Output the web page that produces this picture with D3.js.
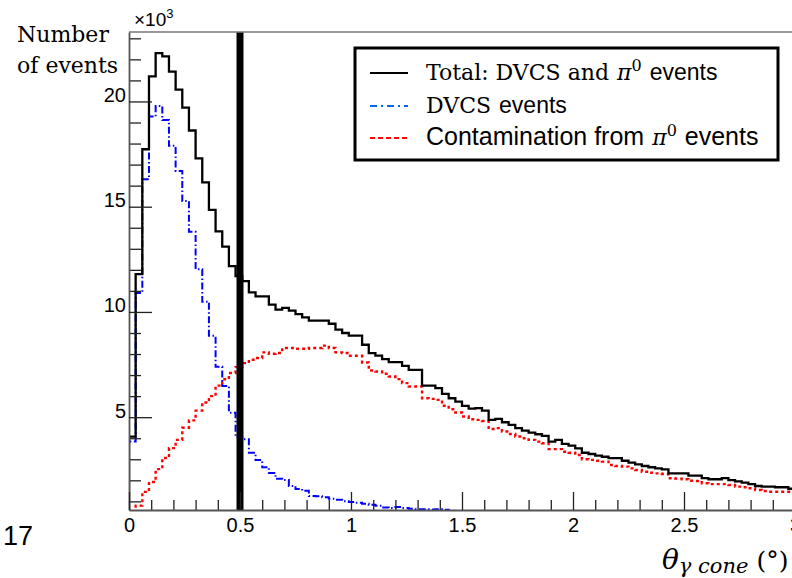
<!DOCTYPE html>
<html>
<head>
<meta charset="utf-8">
<script src="https://cdn.jsdelivr.net/npm/d3@7"></script>
<style>
  body { margin: 0; background: #fff; }
  svg { display: block; }
  .serif { font-family: "DejaVu Serif", serif; }
  .sans { font-family: "Liberation Sans", Arial, sans-serif; }
</style>
</head>
<body>
<script>
// histogram binning: 100 bins of 0.03 deg from 0 to 3
var binWidth = 0.03;

// total: DVCS and pi0 events (x10^3)
var totalCounts = [4.08, 11.8, 17.73, 21.19, 22.3, 22.14, 21.42, 20.56, 19.71, 18.62,
  17.3, 16.16, 14.85, 13.83, 13.1, 12.18, 11.7, 11.46, 10.93, 10.74,
  10.74, 10.35, 10.11, 10.19, 10.06, 9.9, 9.74, 9.59, 9.59, 9.59,
  9.44, 9.16, 9.0, 8.87, 8.87, 8.44, 8.04, 7.92, 7.76, 7.62,
  7.62, 7.44, 7.25, 7.25, 6.5, 6.5, 6.38, 6.11, 5.9, 5.74,
  5.54, 5.41, 5.43, 5.31, 4.87, 4.92, 4.76, 4.63, 4.48, 4.36,
  4.27, 4.19, 4.11, 3.84, 3.92, 3.73, 3.65, 3.52, 3.31, 3.25,
  3.17, 3.12, 3.05, 3.05, 2.93, 2.84, 2.76, 2.68, 2.62, 2.57,
  2.52, 2.33, 2.33, 2.33, 2.22, 2.22, 2.1, 2.05, 2.05, 2.1,
  2.01, 1.95, 1.89, 1.82, 1.73, 1.7, 1.7, 1.67, 1.67, 1.6];

// DVCS events (x10^3)
var dvcsCounts = [3.85, 10.9, 16.3, 19.28, 19.79, 19.12, 17.89, 16.7, 15.27, 13.81,
  12.03, 10.49, 8.87, 7.4, 6.48, 5.21, 4.05, 3.95, 3.31, 2.96,
  2.62, 2.35, 2.08, 2.01, 1.73, 1.59, 1.5, 1.25, 1.24, 1.19,
  1.12, 1.08, 1.01, 0.97, 0.93, 0.89, 0.84, 0.79, 0.71, 0.68,
  0.73, 0.68, 0.65, 0.63, 0.62, 0.61, 0.62, 0.6, 0.55, 0.52,
  0.5, 0.46, 0.43, 0.4, 0.37, 0.35, 0.33, 0.3, 0.28, 0.26,
  0.24, 0.22, 0.2, 0.19, 0.18, 0.16, 0.15, 0.14, 0.13, 0.12,
  0.11, 0.1, 0.1, 0.09, 0.08, 0.08, 0.07, 0.07, 0.06, 0.06,
  0.05, 0.05, 0.05, 0.04, 0.04, 0.04, 0.03, 0.03, 0.03, 0.03,
  0.02, 0.02, 0.02, 0.02, 0.02, 0.01, 0.01, 0.01, 0.01, 0.01];

// contamination from pi0 events (x10^3)
var pi0Counts = [0.3, 0.8, 1.45, 1.92, 2.53, 3.06, 3.53, 3.92, 4.5, 4.85,
  5.31, 5.7, 6.0, 6.5, 6.8, 7.1, 7.38, 7.57, 7.73, 7.81,
  8.08, 8.01, 8.05, 8.29, 8.29, 8.25, 8.25, 8.29, 8.29, 8.4,
  8.29, 8.08, 8.05, 7.92, 7.92, 7.6, 7.22, 7.17, 7.06, 6.93,
  6.81, 6.62, 6.46, 6.46, 5.9, 5.87, 5.82, 5.54, 5.38, 5.22,
  5.03, 4.9, 4.87, 4.82, 4.44, 4.48, 4.32, 4.2, 4.08, 4.0,
  3.92, 3.84, 3.76, 3.48, 3.48, 3.36, 3.31, 3.2, 3.0, 2.97,
  2.93, 2.89, 2.73, 2.68, 2.65, 2.57, 2.49, 2.41, 2.36, 2.33,
  2.3, 2.1, 2.08, 2.05, 1.98, 1.97, 1.86, 1.82, 1.82, 1.82,
  1.78, 1.7, 1.67, 1.62, 1.54, 1.49, 1.46, 1.46, 1.46, 1.46];

// axis ticks
var xMajorTicks = [0, 0.5, 1, 1.5, 2, 2.5, 3];
var xTickLabels = ["0", "0.5", "1", "1.5", "2", "2.5", "3"];
var yMajorTicks = [5, 10, 15, 20];
var yTickLabels = ["5", "10", "15", "20"];

// cut on cone angle
var cutValue = 0.5;

// legend entries
var legendNames = ["total", "dvcs", "pi0"];

window.onload = drawChart();

function drawChart(){

    var width = 792,
        height = 578;

    var svg = d3.select("body")
        .append("svg")
        .attr("width", width)
        .attr("height", height);

    //frame
    var left = 129, right = 795, top = 32, bottom = 510;

    var x = d3.scaleLinear()
        .domain([0, 3])
        .range([left, right]);

    var y = d3.scaleLinear()
        .domain([0.59, 23.3])
        .range([bottom, top]);

    svg.append("clipPath")
        .attr("id", "frameClip")
        .append("rect")
        .attr("x", left)
        .attr("y", top)
        .attr("width", right - left)
        .attr("height", bottom - top);

    //histogram outline as step line
    function histPoints(counts){
        var pts = [[0, y.domain()[0] - 1]];
        counts.forEach(function(c, i){ pts.push([i * binWidth, c]); });
        pts.push([counts.length * binWidth, counts[counts.length - 1]]);
        return pts;
    }

    var stepLine = d3.line()
        .x(function(d){ return x(d[0]); })
        .y(function(d){ return y(d[1]); })
        .curve(d3.curveStepAfter);

    var plot = svg.append("g")
        .attr("clip-path", "url(#frameClip)");

    //pi0 contamination (red dotted)
    plot.append("path")
        .datum(histPoints(pi0Counts))
        .attr("d", stepLine)
        .attr("fill", "none")
        .attr("stroke", "#ff0000")
        .attr("stroke-width", 2.4)
        .attr("stroke-dasharray", "3,3");

    //dvcs (blue dash-dot)
    plot.append("path")
        .datum(histPoints(dvcsCounts))
        .attr("d", stepLine)
        .attr("fill", "none")
        .attr("stroke", "#0000ff")
        .attr("stroke-width", 2)
        .attr("stroke-dasharray", "7,2.5,1.5,2.5");

    //total (black solid)
    plot.append("path")
        .datum(histPoints(totalCounts))
        .attr("d", stepLine)
        .attr("fill", "none")
        .attr("stroke", "#000")
        .attr("stroke-width", 2.3);

    //cut line at 0.5 deg
    plot.append("line")
        .attr("x1", x(cutValue))
        .attr("x2", x(cutValue))
        .attr("y1", top)
        .attr("y2", bottom)
        .attr("stroke", "#000")
        .attr("stroke-width", 7);

    //top frame line
    svg.append("line")
        .attr("x1", left)
        .attr("x2", right)
        .attr("y1", top)
        .attr("y2", top)
        .attr("stroke", "#777")
        .attr("stroke-width", 1.3);

    //y axis, ticks pointing inside
    var yMinor = d3.range(1, 24).filter(function(v){ return yMajorTicks.indexOf(v) < 0; });

    svg.append("g")
        .attr("transform", "translate(" + left + ",0)")
        .call(d3.axisLeft(y).tickValues(yMinor).tickSize(-12).tickSizeOuter(0).tickFormat(""))
        .call(function(g){ g.select(".domain").remove(); });

    var yAxis = svg.append("g")
        .attr("transform", "translate(" + left + ",0)")
        .call(d3.axisLeft(y)
            .tickValues(yMajorTicks)
            .tickSize(-23)
            .tickSizeOuter(0)
            .tickPadding(3)
            .tickFormat(function(d, i){ return yTickLabels[i]; }));

    yAxis.selectAll("text")
        .attr("dy", "0")
        .attr("font-size", 20)
        .attr("font-family", "Liberation Sans, Arial, sans-serif")
        .attr("fill", "#000");

    //x axis, ticks pointing up
    var xMinor = d3.range(1, 30).map(function(v){ return v / 10; })
        .filter(function(v){ return v * 2 !== Math.round(v * 2); });

    svg.append("g")
        .attr("transform", "translate(0," + bottom + ")")
        .call(d3.axisBottom(x).tickValues(xMinor).tickSize(-10).tickSizeOuter(0).tickFormat(""))
        .call(function(g){ g.select(".domain").remove(); });

    var xAxis = svg.append("g")
        .attr("transform", "translate(0," + bottom + ")")
        .call(d3.axisBottom(x)
            .tickValues(xMajorTicks)
            .tickSize(-18)
            .tickSizeOuter(0)
            .tickPadding(8)
            .tickFormat(function(d, i){ return xTickLabels[i]; }));

    xAxis.selectAll("text")
        .attr("font-size", 20)
        .attr("font-family", "Liberation Sans, Arial, sans-serif")
        .attr("fill", "#000");

    svg.selectAll(".tick line")
        .attr("stroke", "#222")
        .attr("stroke-width", 1.3);

    svg.selectAll(".domain")
        .attr("stroke", "#555")
        .attr("stroke-width", 1.8);

    //y exponent
    var expo = svg.append("text")
        .attr("class", "sans")
        .attr("x", 134)
        .attr("y", 26)
        .attr("font-size", 19)
        .text("×10");
    expo.append("tspan")
        .attr("dy", -8)
        .attr("font-size", 13)
        .text("3");

    //y title
    svg.append("text")
        .attr("class", "serif")
        .attr("x", 17)
        .attr("y", 42)
        .attr("font-size", 22)
        .text("Number");
    svg.append("text")
        .attr("class", "serif")
        .attr("x", 17)
        .attr("y", 73)
        .attr("font-size", 22)
        .text("of events");

    //x title
    var xTitle = svg.append("text")
        .attr("x", 662)
        .attr("y", 569)
        .attr("font-family", "DejaVu Serif, serif");
    xTitle.append("tspan")
        .attr("font-style", "italic")
        .attr("font-size", 28)
        .text("θ");
    xTitle.append("tspan")
        .attr("font-style", "italic")
        .attr("font-size", 21)
        .attr("dy", 4)
        .text("γ cone");
    xTitle.append("tspan")
        .attr("font-size", 25)
        .attr("dy", -4)
        .attr("dx", 8)
        .text("(°)");

    //page number
    svg.append("text")
        .attr("class", "sans")
        .attr("x", 3)
        .attr("y", 545)
        .attr("font-size", 27)
        .text("17");

    //legend
    var legend = svg.append("g");

    legend.append("rect")
        .attr("x", 355)
        .attr("y", 48)
        .attr("width", 423)
        .attr("height", 112)
        .attr("fill", "#fff")
        .attr("stroke", "#000")
        .attr("stroke-width", 3);

    var legendStyles = {
        total: {color: "#000", dash: null},
        dvcs: {color: "#0066ee", dash: "7,4,2,4"},
        pi0: {color: "#ff0000", dash: "5,3"}
    };
    var rowBase = [80, 113, 145];

    legendNames.forEach(function(name, i){
        var st = legendStyles[name];
        legend.append("line")
            .attr("x1", 370)
            .attr("x2", 408)
            .attr("y1", rowBase[i] - 7)
            .attr("y2", rowBase[i] - 7)
            .attr("stroke", st.color)
            .attr("stroke-width", 2.2)
            .attr("stroke-dasharray", st.dash);
    });

    //each row is a run of segments: serif words, italic pi with superscript 0, sans words
    var legendRows = [
        [{t: "Total: DVCS and", f: "serif", s: 22}, {t: "π", f: "pi", s: 22}, {t: "events", f: "sans", s: 23}],
        [{t: "DVCS", f: "serif", s: 22}, {t: "events", f: "sans", s: 23}],
        [{t: "Contamination from", f: "sans", s: 25}, {t: "π", f: "pi", s: 22}, {t: "events", f: "sans", s: 25}]
    ];

    legendRows.forEach(function(row, r){
        var xPos = 426;
        row.forEach(function(seg){
            var t = legend.append("text")
                .attr("x", xPos)
                .attr("y", rowBase[r])
                .attr("font-size", seg.s)
                .text(seg.t);
            if (seg.f === "pi") {
                t.attr("font-family", "DejaVu Serif, serif")
                    .attr("font-style", "italic");
                t.append("tspan")
                    .attr("font-style", "normal")
                    .attr("font-size", 16)
                    .attr("dy", -9)
                    .text("0");
            } else {
                t.attr("class", seg.f);
            }
            xPos += t.node().getComputedTextLength() + 8;
        });
    });
}
</script>
</body>
</html>
